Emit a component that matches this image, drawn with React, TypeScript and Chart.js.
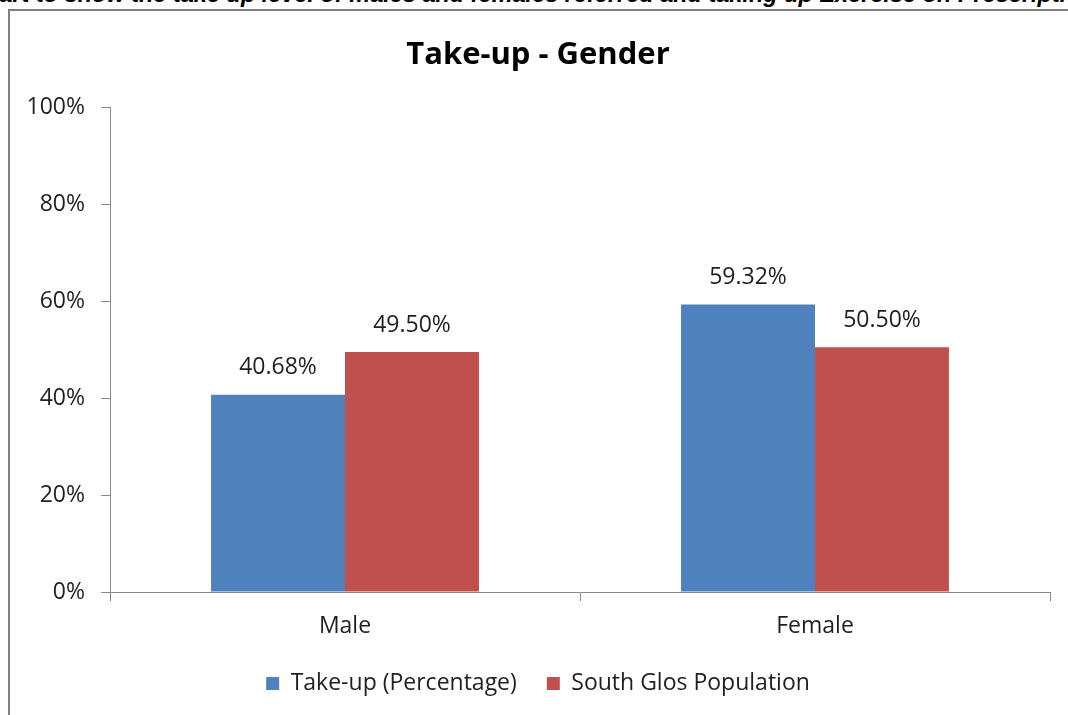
import React, { useEffect, useRef } from "react";
import { Chart, registerables } from "chart.js";

Chart.register(...registerables);

// Chart data
const categories = ["Male", "Female"];
const takeUpValues = [40.68, 59.32];
const populationValues = [49.5, 50.5];
const seriesNames = ["Take-up (Percentage)", "South Glos Population"];
const yTickValues = [0, 20, 40, 60, 80, 100];

const chartTitle = "Take-up - Gender";
const headingText =
  "Chart to show the take up level of males and females referred and taking up Exercise on Prescription";

const FONT = "'Open Sans', 'Noto Sans', sans-serif";
const TEXT_COLOR = "#1f1f1f";
const AXIS_COLOR = "#8a8a8a";

// Draws the value above each bar
const valueLabels = {
  id: "valueLabels",
  afterDatasetsDraw(chart: any) {
    const ctx = chart.ctx;
    ctx.save();
    ctx.font = `23px ${FONT}`;
    ctx.fillStyle = TEXT_COLOR;
    ctx.textAlign = "center";
    ctx.textBaseline = "middle";
    chart.data.datasets.forEach((ds: any, di: number) => {
      const meta = chart.getDatasetMeta(di);
      meta.data.forEach((bar: any, i: number) => {
        const v = ds.data[i] as number;
        ctx.fillText(v.toFixed(2) + "%", bar.x, bar.y - 27);
      });
    });
    ctx.restore();
  },
};

export default function App() {
  const canvasRef = useRef<HTMLCanvasElement | null>(null);

  useEffect(() => {
    if (!canvasRef.current) return;
    const chart = new Chart(canvasRef.current, {
      type: "bar",
      data: {
        labels: categories,
        datasets: [
          {
            label: seriesNames[0],
            data: takeUpValues,
            backgroundColor: "#4F81BD",
            barPercentage: 1,
            categoryPercentage: 0.57,
          },
          {
            label: seriesNames[1],
            data: populationValues,
            backgroundColor: "#C0504D",
            barPercentage: 1,
            categoryPercentage: 0.57,
          },
        ],
      },
      options: {
        responsive: false,
        animation: false,
        layout: { padding: { left: 26, right: 18, top: 0, bottom: 10 } },
        plugins: {
          title: {
            display: true,
            text: chartTitle,
            color: "#000",
            font: { family: FONT, size: 31, weight: "bold", lineHeight: 1.2 },
            padding: { top: 37, bottom: 33 },
          },
          legend: {
            display: true,
            position: "bottom",
            labels: {
              color: TEXT_COLOR,
              font: { family: FONT, size: 23 },
              boxWidth: 13,
              boxHeight: 13,
              padding: 30,
            },
          },
          tooltip: { enabled: false },
        },
        scales: {
          x: {
            grid: {
              display: true,
              drawOnChartArea: false,
              drawTicks: true,
              tickLength: 9,
              color: AXIS_COLOR,
              offset: true,
            },
            border: { display: true, color: AXIS_COLOR, width: 1 },
            ticks: {
              color: TEXT_COLOR,
              font: { family: FONT, size: 23 },
              padding: 12,
            },
            afterFit(scale: any) {
              scale.height = 50;
            },
          },
          y: {
            min: 0,
            max: 100,
            afterBuildTicks(scale: any) {
              scale.ticks = yTickValues.map((v) => ({ value: v }));
            },
            grid: {
              display: true,
              drawOnChartArea: false,
              drawTicks: true,
              tickLength: 9,
              color: AXIS_COLOR,
            },
            border: { display: true, color: AXIS_COLOR, width: 1 },
            ticks: {
              color: TEXT_COLOR,
              font: { family: FONT, size: 23 },
              padding: 16,
              callback: (v: any) => v + "%",
            },
            afterFit(scale: any) {
              scale.width = 84;
            },
          },
        },
      },
      plugins: [valueLabels],
    });
    return () => chart.destroy();
  }, []);

  return (
    <div
      style={{
        position: "fixed",
        left: 0,
        top: 0,
        width: 1068,
        height: 715,
        overflow: "hidden",
        background: "#fff",
      }}
    >
      <div
        style={{
          position: "absolute",
          left: -32,
          top: -17,
          whiteSpace: "nowrap",
          fontFamily: "'Liberation Sans', Arial, sans-serif",
          fontStyle: "italic",
          fontWeight: "bold",
          fontSize: 23.5,
          lineHeight: "23.5px",
          color: "#000",
        }}
      >
        {headingText}
      </div>
      <div
        style={{
          position: "absolute",
          left: 8,
          top: 9,
          width: 1100,
          height: 800,
          borderLeft: "2px solid #808080",
          borderTop: "2px solid #808080",
        }}
      />
      <canvas
        ref={canvasRef}
        width={1068}
        height={715}
        style={{ position: "absolute", left: 0, top: 0, width: 1068, height: 715 }}
      />
    </div>
  );
}
